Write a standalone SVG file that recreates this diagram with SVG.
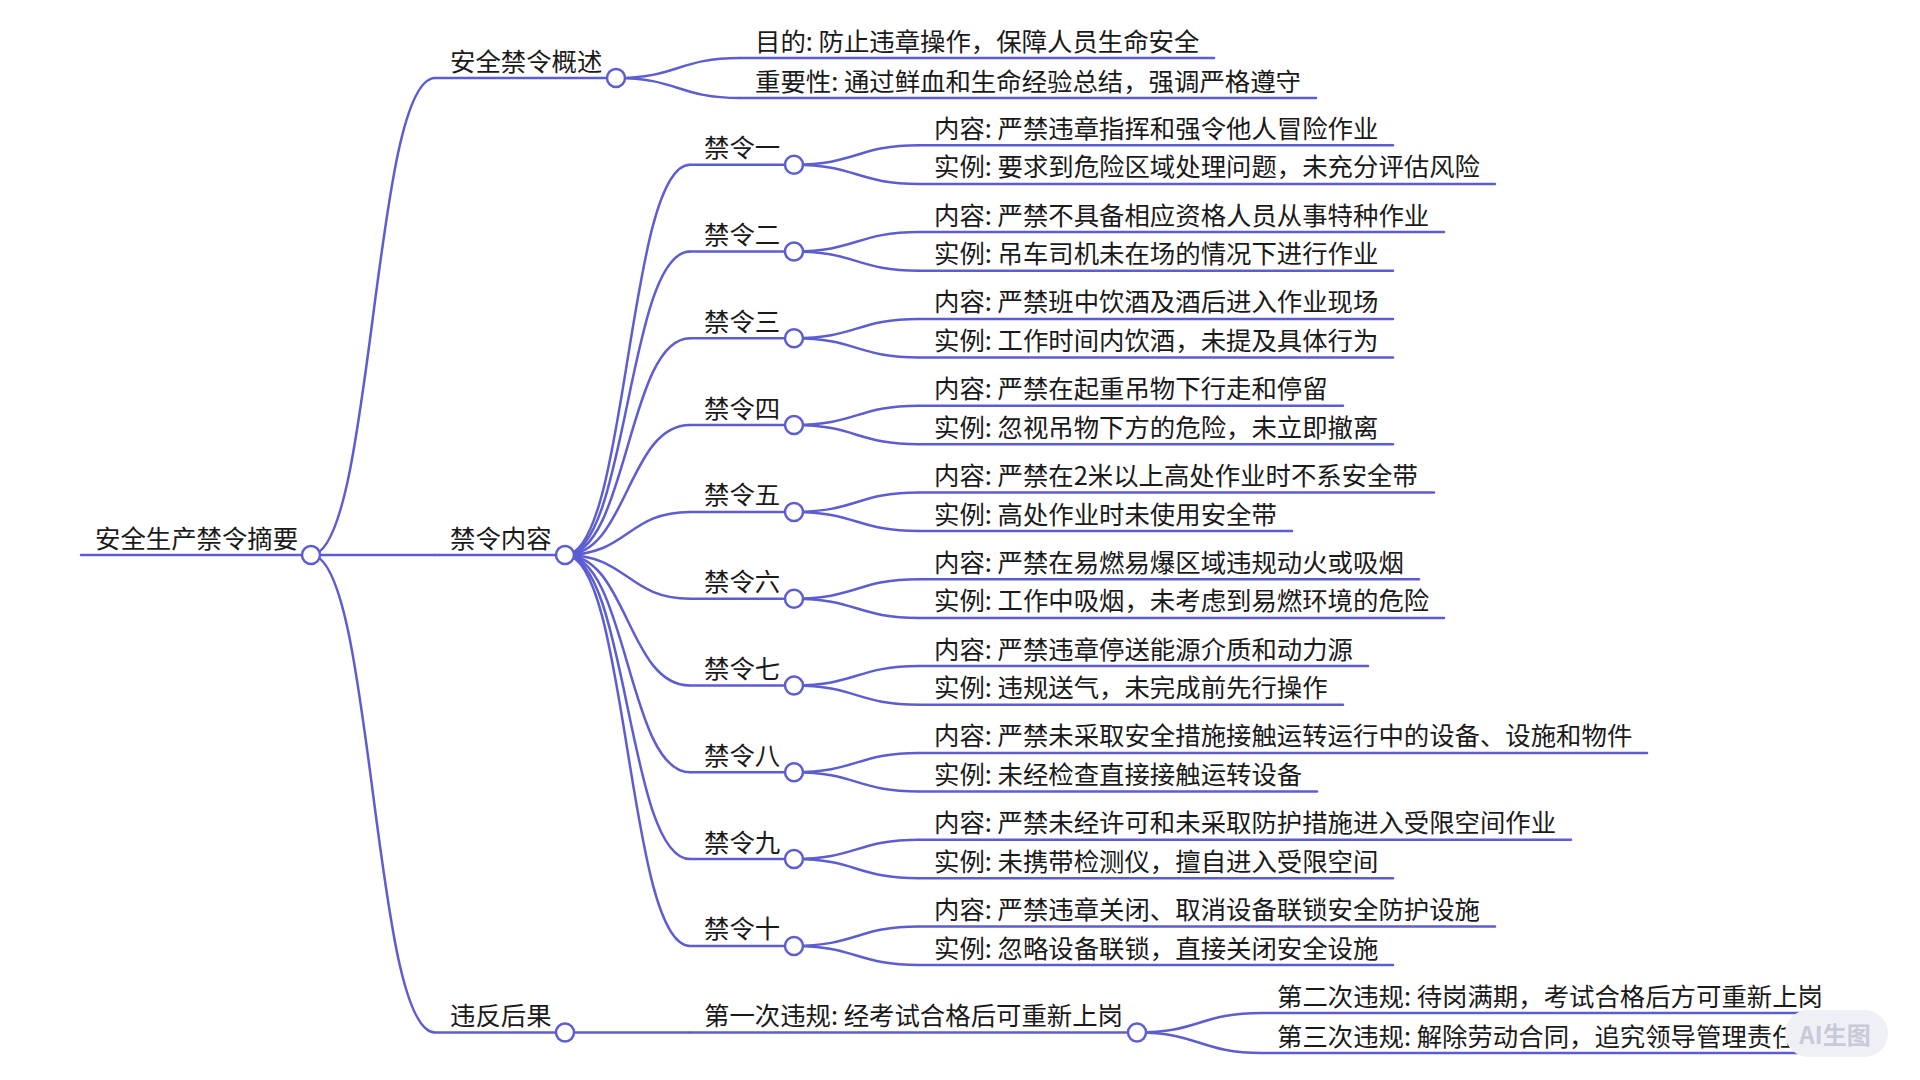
<svg xmlns="http://www.w3.org/2000/svg" width="1920" height="1080" viewBox="0 0 1920 1080">
<style>
.t{font-family:"Noto Sans CJK SC","Noto Sans",sans-serif;font-size:25.4px;fill:#1a1a1a}
.u{stroke:#5d5dd2;stroke-width:2.5;fill:none;stroke-linecap:round}
.c{fill:#fff;stroke:#5d5dd2;stroke-width:2.5}
.l{stroke:#5d5dd2;stroke-width:2.5;fill:none}
.wm{font-family:"Noto Sans CJK SC","Noto Sans",sans-serif;font-size:24px;font-weight:bold;fill:#c8c9d9}
</style>
<rect width="1920" height="1080" fill="#fff"/>
<g id="connectors">
<path class="l" d="M311 555 C373 555 373 78 435 78"/>
<path class="l" d="M311 555 L435 555"/>
<path class="l" d="M311 555 C373 555 373 1032.5 435 1032.5"/>
<path class="l" d="M616 78 C678 78 678 58 740 58"/>
<path class="l" d="M616 78 C678 78 678 98 740 98"/>
<path class="l" d="M565 555 C627.5 555 627.5 164.7 690 164.7"/>
<path class="l" d="M565 555 C627.5 555 627.5 251.5 690 251.5"/>
<path class="l" d="M565 555 C627.5 555 627.5 338.3 690 338.3"/>
<path class="l" d="M565 555 C627.5 555 627.5 425.1 690 425.1"/>
<path class="l" d="M565 555 C627.5 555 627.5 511.9 690 511.9"/>
<path class="l" d="M565 555 C627.5 555 627.5 598.7 690 598.7"/>
<path class="l" d="M565 555 C627.5 555 627.5 685.5 690 685.5"/>
<path class="l" d="M565 555 C627.5 555 627.5 772.3 690 772.3"/>
<path class="l" d="M565 555 C627.5 555 627.5 859.1 690 859.1"/>
<path class="l" d="M565 555 C627.5 555 627.5 945.9 690 945.9"/>
<path class="l" d="M565 1032.5 L690 1032.5"/>
<path class="l" d="M794 164.7 C856.5 164.7 856.5 145.3 919 145.3"/>
<path class="l" d="M794 164.7 C856.5 164.7 856.5 183.9 919 183.9"/>
<path class="l" d="M794 251.5 C856.5 251.5 856.5 232.1 919 232.1"/>
<path class="l" d="M794 251.5 C856.5 251.5 856.5 270.7 919 270.7"/>
<path class="l" d="M794 338.3 C856.5 338.3 856.5 318.9 919 318.9"/>
<path class="l" d="M794 338.3 C856.5 338.3 856.5 357.5 919 357.5"/>
<path class="l" d="M794 425.1 C856.5 425.1 856.5 405.7 919 405.7"/>
<path class="l" d="M794 425.1 C856.5 425.1 856.5 444.3 919 444.3"/>
<path class="l" d="M794 511.9 C856.5 511.9 856.5 492.5 919 492.5"/>
<path class="l" d="M794 511.9 C856.5 511.9 856.5 531.1 919 531.1"/>
<path class="l" d="M794 598.7 C856.5 598.7 856.5 579.3 919 579.3"/>
<path class="l" d="M794 598.7 C856.5 598.7 856.5 617.9 919 617.9"/>
<path class="l" d="M794 685.5 C856.5 685.5 856.5 666.1 919 666.1"/>
<path class="l" d="M794 685.5 C856.5 685.5 856.5 704.7 919 704.7"/>
<path class="l" d="M794 772.3 C856.5 772.3 856.5 752.9 919 752.9"/>
<path class="l" d="M794 772.3 C856.5 772.3 856.5 791.5 919 791.5"/>
<path class="l" d="M794 859.1 C856.5 859.1 856.5 839.7 919 839.7"/>
<path class="l" d="M794 859.1 C856.5 859.1 856.5 878.3 919 878.3"/>
<path class="l" d="M794 945.9 C856.5 945.9 856.5 926.5 919 926.5"/>
<path class="l" d="M794 945.9 C856.5 945.9 856.5 965.1 919 965.1"/>
<path class="l" d="M1137 1032.5 C1199.5 1032.5 1199.5 1013 1262 1013"/>
<path class="l" d="M1137 1032.5 C1199.5 1032.5 1199.5 1053 1262 1053"/>
</g>

<g id="n-root"><line class="u" x1="81" y1="555" x2="311" y2="555"/><text class="t" x="95" y="547.5">安全生产禁令摘要</text><circle class="c" cx="311" cy="555" r="9"/></g>

<g id="n-overview"><line class="u" x1="435" y1="78" x2="616" y2="78"/><text class="t" x="450" y="70.5">安全禁令概述</text><circle class="c" cx="616" cy="78" r="9"/></g>
<g id="n-purpose"><line class="u" x1="740" y1="58" x2="1214" y2="58"/><text class="t" x="755" y="50.5">目的: 防止违章操作，保障人员生命安全</text></g>
<g id="n-importance"><line class="u" x1="740" y1="98" x2="1316" y2="98"/><text class="t" x="755" y="90.5">重要性: 通过鲜血和生命经验总结，强调严格遵守</text></g>

<g id="n-content"><line class="u" x1="435" y1="555" x2="565" y2="555"/><text class="t" x="450" y="547.5">禁令内容</text><circle class="c" cx="565" cy="555" r="9"/></g>

<g id="n-b1"><line class="u" x1="690" y1="164.7" x2="794" y2="164.7"/><text class="t" x="704" y="157.2">禁令一</text><circle class="c" cx="794" cy="164.7" r="9"/></g>
<g id="n-b1a"><line class="u" x1="919" y1="145.3" x2="1393" y2="145.3"/><text class="t" x="934" y="137.8">内容: 严禁违章指挥和强令他人冒险作业</text></g>
<g id="n-b1b"><line class="u" x1="919" y1="183.9" x2="1495" y2="183.9"/><text class="t" x="934" y="176.4">实例: 要求到危险区域处理问题，未充分评估风险</text></g>

<g id="n-b2"><line class="u" x1="690" y1="251.5" x2="794" y2="251.5"/><text class="t" x="704" y="244">禁令二</text><circle class="c" cx="794" cy="251.5" r="9"/></g>
<g id="n-b2a"><line class="u" x1="919" y1="232.1" x2="1444" y2="232.1"/><text class="t" x="934" y="224.6">内容: 严禁不具备相应资格人员从事特种作业</text></g>
<g id="n-b2b"><line class="u" x1="919" y1="270.7" x2="1393" y2="270.7"/><text class="t" x="934" y="263.2">实例: 吊车司机未在场的情况下进行作业</text></g>

<g id="n-b3"><line class="u" x1="690" y1="338.3" x2="794" y2="338.3"/><text class="t" x="704" y="330.8">禁令三</text><circle class="c" cx="794" cy="338.3" r="9"/></g>
<g id="n-b3a"><line class="u" x1="919" y1="318.9" x2="1393" y2="318.9"/><text class="t" x="934" y="311.4">内容: 严禁班中饮酒及酒后进入作业现场</text></g>
<g id="n-b3b"><line class="u" x1="919" y1="357.5" x2="1393" y2="357.5"/><text class="t" x="934" y="350">实例: 工作时间内饮酒，未提及具体行为</text></g>

<g id="n-b4"><line class="u" x1="690" y1="425.1" x2="794" y2="425.1"/><text class="t" x="704" y="417.6">禁令四</text><circle class="c" cx="794" cy="425.1" r="9"/></g>
<g id="n-b4a"><line class="u" x1="919" y1="405.7" x2="1343" y2="405.7"/><text class="t" x="934" y="398.2">内容: 严禁在起重吊物下行走和停留</text></g>
<g id="n-b4b"><line class="u" x1="919" y1="444.3" x2="1393" y2="444.3"/><text class="t" x="934" y="436.8">实例: 忽视吊物下方的危险，未立即撤离</text></g>

<g id="n-b5"><line class="u" x1="690" y1="511.9" x2="794" y2="511.9"/><text class="t" x="704" y="504.4">禁令五</text><circle class="c" cx="794" cy="511.9" r="9"/></g>
<g id="n-b5a"><line class="u" x1="919" y1="492.5" x2="1434" y2="492.5"/><text class="t" x="934" y="485">内容: 严禁在2米以上高处作业时不系安全带</text></g>
<g id="n-b5b"><line class="u" x1="919" y1="531.1" x2="1292" y2="531.1"/><text class="t" x="934" y="523.6">实例: 高处作业时未使用安全带</text></g>

<g id="n-b6"><line class="u" x1="690" y1="598.7" x2="794" y2="598.7"/><text class="t" x="704" y="591.2">禁令六</text><circle class="c" cx="794" cy="598.7" r="9"/></g>
<g id="n-b6a"><line class="u" x1="919" y1="579.3" x2="1419" y2="579.3"/><text class="t" x="934" y="571.8">内容: 严禁在易燃易爆区域违规动火或吸烟</text></g>
<g id="n-b6b"><line class="u" x1="919" y1="617.9" x2="1444" y2="617.9"/><text class="t" x="934" y="610.4">实例: 工作中吸烟，未考虑到易燃环境的危险</text></g>

<g id="n-b7"><line class="u" x1="690" y1="685.5" x2="794" y2="685.5"/><text class="t" x="704" y="678">禁令七</text><circle class="c" cx="794" cy="685.5" r="9"/></g>
<g id="n-b7a"><line class="u" x1="919" y1="666.1" x2="1368" y2="666.1"/><text class="t" x="934" y="658.6">内容: 严禁违章停送能源介质和动力源</text></g>
<g id="n-b7b"><line class="u" x1="919" y1="704.7" x2="1343" y2="704.7"/><text class="t" x="934" y="697.2">实例: 违规送气，未完成前先行操作</text></g>

<g id="n-b8"><line class="u" x1="690" y1="772.3" x2="794" y2="772.3"/><text class="t" x="704" y="764.8">禁令八</text><circle class="c" cx="794" cy="772.3" r="9"/></g>
<g id="n-b8a"><line class="u" x1="919" y1="752.9" x2="1647" y2="752.9"/><text class="t" x="934" y="745.4">内容: 严禁未采取安全措施接触运转运行中的设备、设施和物件</text></g>
<g id="n-b8b"><line class="u" x1="919" y1="791.5" x2="1317" y2="791.5"/><text class="t" x="934" y="784">实例: 未经检查直接接触运转设备</text></g>

<g id="n-b9"><line class="u" x1="690" y1="859.1" x2="794" y2="859.1"/><text class="t" x="704" y="851.6">禁令九</text><circle class="c" cx="794" cy="859.1" r="9"/></g>
<g id="n-b9a"><line class="u" x1="919" y1="839.7" x2="1571" y2="839.7"/><text class="t" x="934" y="832.2">内容: 严禁未经许可和未采取防护措施进入受限空间作业</text></g>
<g id="n-b9b"><line class="u" x1="919" y1="878.3" x2="1393" y2="878.3"/><text class="t" x="934" y="870.8">实例: 未携带检测仪，擅自进入受限空间</text></g>

<g id="n-b10"><line class="u" x1="690" y1="945.9" x2="794" y2="945.9"/><text class="t" x="704" y="938.4">禁令十</text><circle class="c" cx="794" cy="945.9" r="9"/></g>
<g id="n-b10a"><line class="u" x1="919" y1="926.5" x2="1495" y2="926.5"/><text class="t" x="934" y="919">内容: 严禁违章关闭、取消设备联锁安全防护设施</text></g>
<g id="n-b10b"><line class="u" x1="919" y1="965.1" x2="1393" y2="965.1"/><text class="t" x="934" y="957.6">实例: 忽略设备联锁，直接关闭安全设施</text></g>

<g id="n-consequence"><line class="u" x1="435" y1="1032.5" x2="565" y2="1032.5"/><text class="t" x="450" y="1025">违反后果</text><circle class="c" cx="565" cy="1032.5" r="9"/></g>
<g id="n-v1"><line class="u" x1="690" y1="1032.5" x2="1137" y2="1032.5"/><text class="t" x="704" y="1025">第一次违规: 经考试合格后可重新上岗</text><circle class="c" cx="1137" cy="1032.5" r="9"/></g>
<g id="n-v2"><line class="u" x1="1262" y1="1013" x2="1838" y2="1013"/><text class="t" x="1277" y="1005.5">第二次违规: 待岗满期，考试合格后方可重新上岗</text></g>
<g id="n-v3"><line class="u" x1="1262" y1="1053" x2="1813" y2="1053"/><text class="t" x="1277" y="1045.5">第三次违规: 解除劳动合同，追究领导管理责任</text></g>

<g id="watermark"><rect x="1785" y="1010" width="103" height="47" rx="23.5" fill="#eff0f6"/><text class="wm" x="1835" y="1043.5" text-anchor="middle">AI生图</text></g>
</svg>
